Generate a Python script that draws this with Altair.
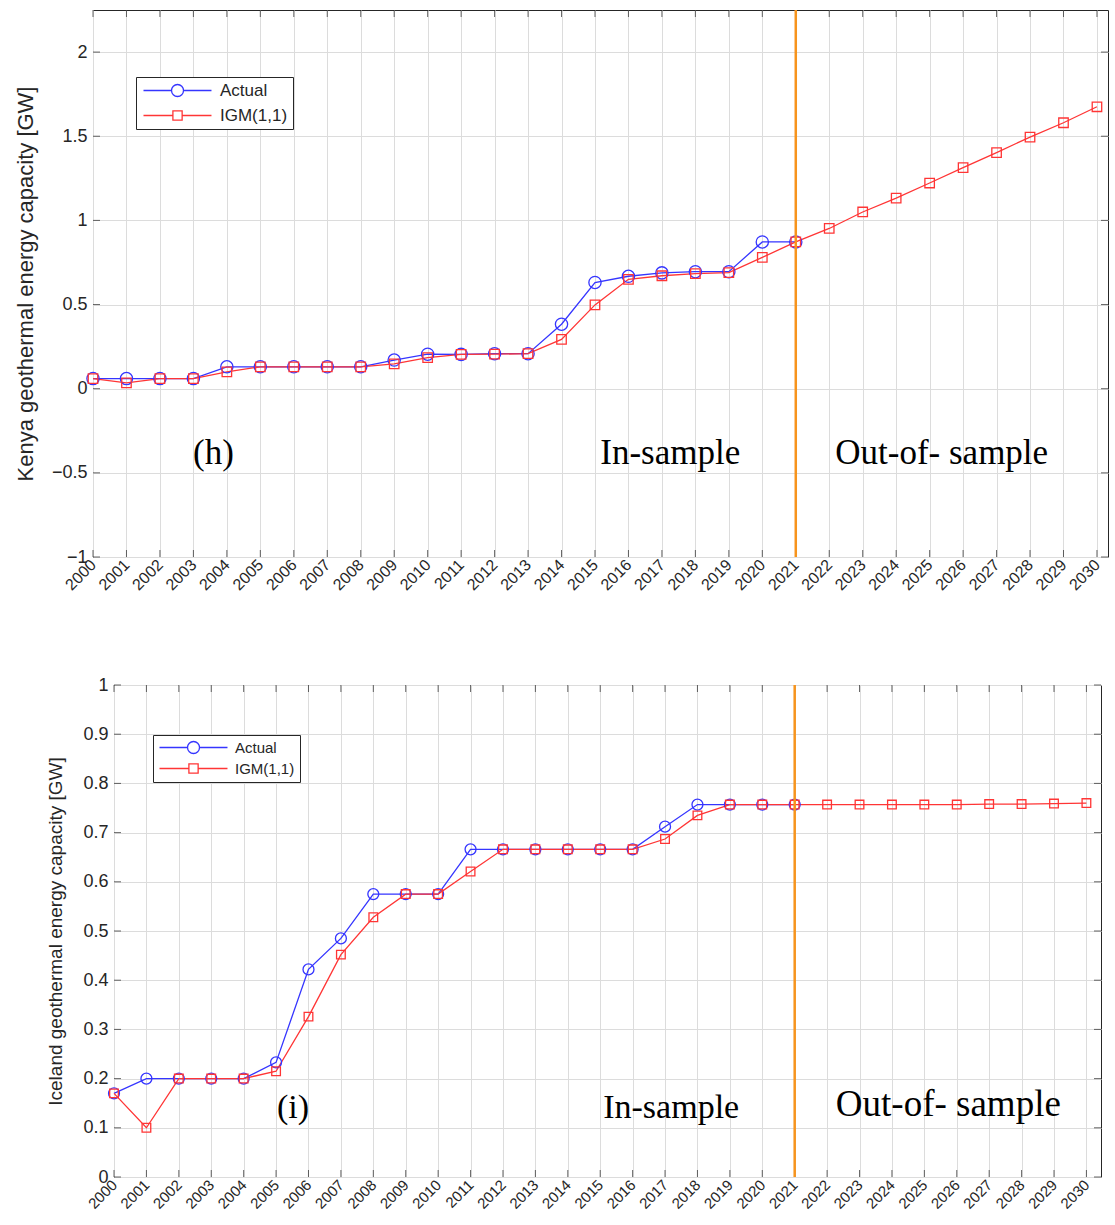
import altair as alt
import pandas as pd

# ---------------- data ----------------
years = list(range(2000, 2031))
series_names = ["Actual", "IGM(1,1)"]

kenya_actual = [0.06, 0.06, 0.06, 0.06, 0.13, 0.13, 0.13, 0.13, 0.13, 0.17, 0.205,
                0.204, 0.208, 0.208, 0.383, 0.631, 0.668, 0.688, 0.695, 0.695, 0.872, 0.872]
kenya_igm = [0.06, 0.035, 0.06, 0.06, 0.10, 0.13, 0.13, 0.13, 0.13, 0.148, 0.185,
             0.204, 0.205, 0.208, 0.293, 0.498, 0.65, 0.671, 0.684, 0.69, 0.78, 0.872,
             0.952, 1.05, 1.132, 1.222, 1.313, 1.403, 1.495, 1.58, 1.675]

iceland_actual = [0.17, 0.2, 0.2, 0.2, 0.2, 0.233, 0.422, 0.485, 0.575, 0.575, 0.575,
                  0.666, 0.666, 0.666, 0.666, 0.666, 0.666, 0.712, 0.757, 0.757, 0.757, 0.757]
iceland_igm = [0.17, 0.1, 0.2, 0.2, 0.2, 0.215, 0.326, 0.452, 0.528, 0.575, 0.575,
               0.621, 0.666, 0.666, 0.666, 0.666, 0.666, 0.687, 0.735, 0.757, 0.757, 0.757,
               0.757, 0.757, 0.757, 0.757, 0.757, 0.758, 0.758, 0.759, 0.76]

kenya_yticks = [-1, -0.5, 0, 0.5, 1, 1.5, 2]
iceland_yticks = [0, 0.1, 0.2, 0.3, 0.4, 0.5, 0.6, 0.7, 0.8, 0.9, 1]

split_year = [2021]

kenya_notes_text = ["(h)", "In-sample", "Out-of- sample"]
kenya_notes_x = [2003.6, 2017.25, 2025.36]
kenya_notes_y = [-0.38, -0.38, -0.38]
kenya_notes_size = [35, 35, 35]

iceland_notes_text = ["(i)", "In-sample", "Out-of- sample"]
iceland_notes_x = [2005.52, 2017.19, 2025.74]
iceland_notes_y = [0.14, 0.14, 0.146]
iceland_notes_size = [34, 34, 37]

BLUE = "#3535ff"
RED = "#ff3535"
ORANGE = "#f7941d"
INK = "#262626"

CIRCLE_PATH = "M-1,0L3.67,0M5.67,0L10.33,0M3.67,0A1,1 0 1,0 5.67,0A1,1 0 1,0 3.67,0"
SQUARE_PATH = "M-1,0L3.9,0M5.44,0L10.33,0M3.9,-0.77L5.44,-0.77L5.44,0.77L3.9,0.77Z"


def panel(actual, igm, ydomain, yticks, xmax, width, height, ytitle,
          notes, ylab_size, xlab_size, title_size, title_pad,
          legend_x, legend_y, legend_font, legend_row_pad,
          circle_size, square_size):
    df = pd.concat([
        pd.DataFrame({"year": years[:len(actual)], "value": actual, "series": series_names[0]}),
        pd.DataFrame({"year": years[:len(igm)], "value": igm, "series": series_names[1]}),
    ], ignore_index=True)

    xenc = alt.X("year:Q",
                 scale=alt.Scale(domain=[2000, xmax], nice=False, zero=False),
                 axis=alt.Axis(values=years, format="d", labelAngle=-45,
                               labelAlign="right", labelBaseline="middle",
                               labelFontSize=xlab_size, labelPadding=5,
                               ticks=False, domain=False, grid=True,
                               labelOverlap=False),
                 title=None)
    yenc = alt.Y("value:Q",
                 scale=alt.Scale(domain=ydomain, nice=False, zero=False),
                 axis=alt.Axis(values=yticks, format="~g", labelFontSize=ylab_size,
                               labelPadding=6, ticks=False, domain=False, grid=True,
                               titleFontSize=title_size, titlePadding=title_pad,
                               titleFontWeight="normal"),
                 title=ytitle)

    base = alt.Chart(df).encode(x=xenc, y=yenc)

    line_a = base.transform_filter(alt.datum.series == series_names[0]).mark_line(
        color=BLUE, strokeWidth=1.3)
    line_i = base.transform_filter(alt.datum.series == series_names[1]).mark_line(
        color=RED, strokeWidth=1.3)
    pts_a = base.transform_filter(alt.datum.series == series_names[0]).mark_point(
        shape="circle", filled=False, color=BLUE, size=circle_size, strokeWidth=1.3, opacity=1)
    pts_i = base.transform_filter(alt.datum.series == series_names[1]).mark_point(
        shape="square", filled=False, color=RED, size=square_size, strokeWidth=1.3, opacity=1)

    leg = alt.Legend(title=None, orient="none", legendX=legend_x, legendY=legend_y,
                     strokeColor=INK, fillColor="white", padding=5,
                     symbolSize=144, symbolStrokeWidth=1.3, symbolOpacity=1,
                     labelFontSize=legend_font, labelFont="Liberation Sans",
                     labelColor=INK, labelOffset=62, rowPadding=legend_row_pad,
                     symbolFillColor="transparent")
    # invisible layer that only carries the legend (kept at the first year, tiny)
    ghost = base.transform_filter(alt.datum.year == years[0]).mark_point(
        filled=False, opacity=0, size=1).encode(
        color=alt.Color("series:N", scale=alt.Scale(domain=series_names, range=[BLUE, RED]),
                        legend=leg),
        shape=alt.Shape("series:N",
                        scale=alt.Scale(domain=series_names, range=[CIRCLE_PATH, SQUARE_PATH]),
                        legend=leg),
    )

    # inner tick marks (box on)
    tb = pd.DataFrame({"year": years, "value": [ydomain[0]] * len(years)})
    tt = pd.DataFrame({"year": years, "value": [ydomain[1]] * len(years)})
    tl = pd.DataFrame({"year": [2000] * len(yticks), "value": yticks})
    tr = pd.DataFrame({"year": [xmax] * len(yticks), "value": yticks})
    tick_b = alt.Chart(tb).mark_tick(orient="vertical", size=7, thickness=1, color=INK,
                                     yOffset=-3.5).encode(x=xenc, y=yenc)
    tick_t = alt.Chart(tt).mark_tick(orient="vertical", size=7, thickness=1, color=INK,
                                     yOffset=3.5).encode(x=xenc, y=yenc)
    tick_l = alt.Chart(tl).mark_tick(orient="horizontal", size=7, thickness=1, color=INK,
                                     xOffset=3.5).encode(x=xenc, y=yenc)
    tick_r = alt.Chart(tr).mark_tick(orient="horizontal", size=7, thickness=1, color=INK,
                                     xOffset=-3.5).encode(x=xenc, y=yenc)

    rule = alt.Chart(pd.DataFrame({"year": split_year})).mark_rule(
        color=ORANGE, strokeWidth=2.5).encode(x=xenc)

    ntext, nx, ny, nsize = notes
    ndf = pd.DataFrame({"year": nx, "value": ny, "label": ntext, "fs": nsize})
    texts = []
    for s in sorted(set(nsize)):
        texts.append(alt.Chart(ndf).transform_filter(alt.datum.fs == s).mark_text(
            font="Liberation Serif", fontSize=s, color="black").encode(
            x=xenc, y=yenc, text="label:N"))

    layers = [tick_b, tick_t, tick_l, tick_r, line_a, line_i, pts_a, pts_i, rule, ghost] + texts
    return alt.layer(*layers).properties(width=width, height=height)


def spacer(w):
    return alt.Chart(pd.DataFrame({"v": [0]})).mark_point(opacity=0, size=1).properties(
        width=w, height=1, view=alt.ViewBackground(strokeOpacity=0))


top = panel(kenya_actual, kenya_igm, [-1, 2.25], kenya_yticks, 2030.33, 1015, 547,
            "Kenya geothermal energy capacity [GW]",
            (kenya_notes_text, kenya_notes_x, kenya_notes_y, kenya_notes_size),
            ylab_size=18, xlab_size=16, title_size=22, title_pad=14,
            legend_x=43, legend_y=67, legend_font=17, legend_row_pad=6,
            circle_size=150, square_size=90)

bottom = panel(iceland_actual, iceland_igm, [0, 1], iceland_yticks, 2030.45, 987, 492,
               "Iceland geothermal energy capacity [GW]",
               (iceland_notes_text, iceland_notes_x, iceland_notes_y, iceland_notes_size),
               ylab_size=18, xlab_size=15, title_size=19, title_pad=17,
               legend_x=39, legend_y=50, legend_font=15, legend_row_pad=4,
               circle_size=120, square_size=75)

top_row = alt.hconcat(spacer(1), top, spacing=0).resolve_scale(
    color="independent", shape="independent")
bottom_row = alt.hconcat(spacer(34), bottom, spacing=0).resolve_scale(
    color="independent", shape="independent")

chart = alt.vconcat(top_row, bottom_row, spacing=81).resolve_scale(
    color="independent", shape="independent"
).properties(
    padding={"left": 12, "top": 8, "right": 0, "bottom": 0},
    background="white",
).configure_view(
    stroke=INK, strokeWidth=1
).configure_axis(
    gridColor="#dcdcdc", gridWidth=1, labelColor=INK, titleColor=INK,
    labelFont="Liberation Sans", titleFont="Liberation Sans"
)

chart.save("out.html", embed_options={"renderer": "svg", "actions": False})
